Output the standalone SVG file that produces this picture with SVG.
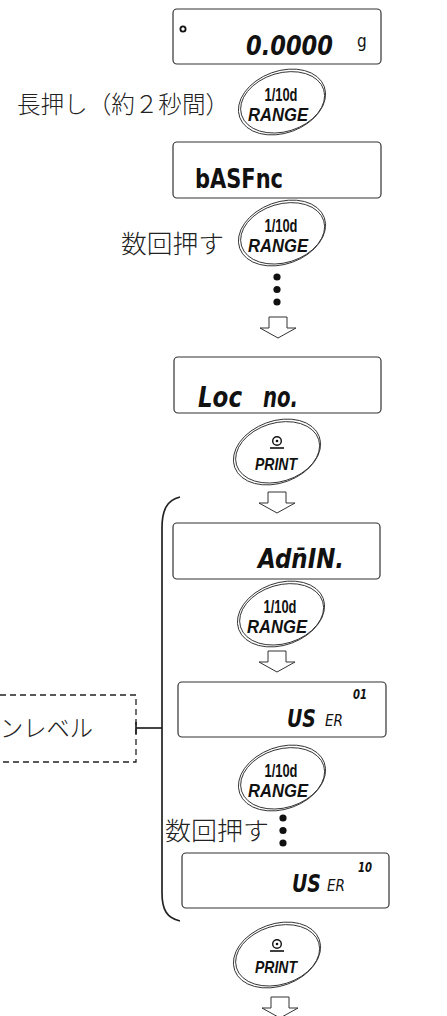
<svg xmlns="http://www.w3.org/2000/svg" xmlns:xlink="http://www.w3.org/1999/xlink" width="447" height="1016" viewBox="0 0 447 1016">
<style>
.disp{fill:#fff;stroke:#333;stroke-width:1.2}
.lcd{font-family:"DejaVu Sans Condensed","DejaVu Sans",sans-serif;font-stretch:condensed;font-weight:bold;fill:#111}
.it{font-style:oblique}
.jp{font-family:"Noto Sans CJK JP",sans-serif;font-weight:300;fill:#222}
.ov{fill:#fff;stroke:#333;stroke-width:0.9}
.btn1{font-family:"Liberation Sans",Arial,sans-serif;font-weight:bold;font-size:18px;fill:#111;text-anchor:middle}
.btn2{font-family:"Liberation Sans",Arial,sans-serif;font-weight:bold;font-style:italic;font-size:19px;fill:#111;text-anchor:middle}
.arw{fill:#fff;stroke:#333;stroke-width:1}
.dot{fill:#111}
.line{fill:none;stroke:#222;stroke-width:1.7}
.dash{fill:none;stroke:#222;stroke-width:1.3;stroke-dasharray:6 4}
</style>
<defs>
<g id="oval">
<ellipse cx="0" cy="0" rx="45" ry="31" transform="rotate(-20)" class="ov"/>
<ellipse cx="0.5" cy="0.5" rx="43" ry="29.3" transform="rotate(-17)" style="fill:none;stroke:#333;stroke-width:0.9"/>
</g>
<g id="range">
<use xlink:href="#oval"/>
<text class="btn1" x="-1" y="-1" textLength="33" lengthAdjust="spacingAndGlyphs">1/10d</text>
<text class="btn2" x="-4" y="19" textLength="60" lengthAdjust="spacingAndGlyphs">RANGE</text>
</g>
<g id="print">
<use xlink:href="#oval"/>
<circle cx="0" cy="-11" r="4.3" style="fill:none;stroke:#111;stroke-width:1.4"/>
<circle cx="0" cy="-11" r="1.3" style="fill:#111"/>
<line x1="-7" y1="-4" x2="7" y2="-4" style="stroke:#111;stroke-width:1.6"/>
<text class="btn2" x="-1" y="18" style="font-size:17px" textLength="42" lengthAdjust="spacingAndGlyphs">PRINT</text>
</g>
<path id="arrow" class="arw" d="M-9,0 H9 V11 H18 L0,21 L-18,11 H-9 Z"/>
</defs>

<g id="connectors">
<use xlink:href="#arrow" x="278" y="317"/>
<use xlink:href="#arrow" x="277" y="492"/>
<use xlink:href="#arrow" x="277" y="651"/>
<use xlink:href="#arrow" x="280" y="997"/>
<path class="line" d="M180,497 C167,500 162,510 162,528 L162,893 C162,910 167,918 180,921"/>
<line class="line" x1="136" y1="728" x2="162" y2="728"/>
<line class="line" x1="136" y1="722" x2="136" y2="734"/>
</g>

<g id="display-zero">
<rect class="disp" x="173" y="9" width="208" height="55" rx="4"/>
<circle cx="183" cy="29" r="2.6" style="fill:none;stroke:#111;stroke-width:1.8"/>
<text class="lcd it" x="246" y="55" font-size="27" textLength="87" lengthAdjust="spacingAndGlyphs">0.0000</text>
<text class="lcd" x="357" y="47" font-size="17" style="font-weight:normal">g</text>
</g>

<g id="step-longpress">
<text class="jp" x="17" y="113" font-size="24" textLength="212" lengthAdjust="spacingAndGlyphs">長押し（約２秒間）</text>
<use xlink:href="#range" x="282" y="102"/>
</g>

<g id="display-basfnc">
<rect class="disp" x="173" y="142" width="208" height="56" rx="4"/>
<text class="lcd" x="195" y="188" font-size="26" textLength="88" lengthAdjust="spacingAndGlyphs">bASFnc</text>
</g>

<g id="step-press-several">
<text class="jp" x="121" y="253" font-size="25" textLength="103" lengthAdjust="spacingAndGlyphs">数回押す</text>
<use xlink:href="#range" x="282" y="233"/>
<circle class="dot" cx="277" cy="277" r="3.6"/>
<circle class="dot" cx="277" cy="289.5" r="3.6"/>
<circle class="dot" cx="277" cy="302" r="3.6"/>
</g>

<g id="display-locno">
<rect class="disp" x="174" y="357" width="207" height="56" rx="4"/>
<text class="lcd it" y="407" font-size="28"><tspan x="198" textLength="44" lengthAdjust="spacingAndGlyphs">Loc</tspan><tspan x="263" textLength="35" lengthAdjust="spacingAndGlyphs">no.</tspan></text>
</g>

<g id="btn-print-1">
<use xlink:href="#print" x="277" y="452"/>
</g>

<g id="display-admin">
<rect class="disp" x="173" y="523" width="207" height="56" rx="4"/>
<text class="lcd it" x="258" y="568" font-size="27" textLength="86" lengthAdjust="spacingAndGlyphs">Adn̄IN.</text>
</g>

<g id="btn-range-3">
<use xlink:href="#range" x="281" y="614"/>
</g>

<g id="admin-level">
<rect class="dash" x="-10" y="695" width="146" height="67"/>
<text class="jp" x="0" y="737" font-size="24" textLength="93" lengthAdjust="spacingAndGlyphs">ンレベル</text>
</g>

<g id="display-user01">
<rect class="disp" x="178" y="682" width="208" height="55" rx="4"/>
<text class="lcd it" x="287" y="727" font-size="24" textLength="29" lengthAdjust="spacingAndGlyphs">US</text>
<text class="lcd it" x="325" y="726" font-size="15" style="font-weight:normal" textLength="18" lengthAdjust="spacingAndGlyphs">ER</text>
<text class="lcd it" x="353" y="699" font-size="14" textLength="14" lengthAdjust="spacingAndGlyphs">01</text>
</g>

<g id="step-press-several-2">
<use xlink:href="#range" x="282" y="778"/>
<text class="jp" x="165" y="840" font-size="25" textLength="104" lengthAdjust="spacingAndGlyphs">数回押す</text>
<circle class="dot" cx="283" cy="818" r="3.6"/>
<circle class="dot" cx="283" cy="830.5" r="3.6"/>
<circle class="dot" cx="283" cy="843" r="3.6"/>
</g>

<g id="display-user10">
<rect class="disp" x="182" y="853" width="207" height="55" rx="4"/>
<text class="lcd it" x="292" y="892" font-size="24" textLength="29" lengthAdjust="spacingAndGlyphs">US</text>
<text class="lcd it" x="327" y="891" font-size="15" style="font-weight:normal" textLength="18" lengthAdjust="spacingAndGlyphs">ER</text>
<text class="lcd it" x="358" y="872" font-size="14" textLength="14" lengthAdjust="spacingAndGlyphs">10</text>
</g>

<g id="btn-print-2">
<use xlink:href="#print" x="277" y="955"/>
</g>
</svg>
